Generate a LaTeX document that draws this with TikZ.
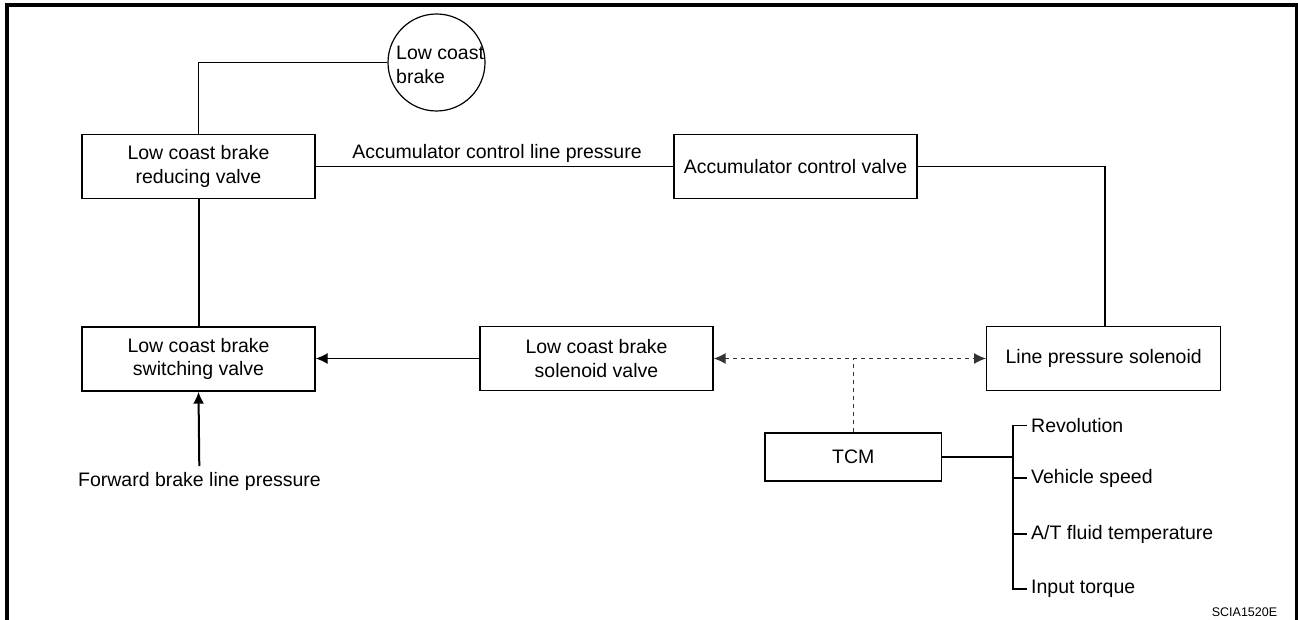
\documentclass[tikz,border=0pt]{standalone}
\usepackage{fontspec}
\setmainfont{Liberation Sans}
\usetikzlibrary{arrows.meta}
\begin{document}
\begin{tikzpicture}[x=1pt,y=-1pt,
  every node/.style={font=\fontsize{19.5}{23.5}\selectfont, inner sep=0pt},
  valvebox/.style={draw, line width=1.4pt, align=center, minimum height=64pt},
  thinline/.style={line width=1.2pt},
  thickline/.style={line width=2pt},
  sigline/.style={line width=1.1pt, black!80, dash pattern=on 4pt off 4pt},
  tip/.style={-{Latex[length=12pt,width=11pt]}},
  bothtip/.style={{Latex[length=12pt,width=11pt]}-{Latex[length=12pt,width=11pt]}},
  inlabel/.style={anchor=west, inner xsep=4pt},
  frame/.style={line width=4pt}
]
\useasboundingbox (0,0) rectangle (1298,620);
% frame (left, top, right)
\draw[frame] (7.3,620) -- (7.3,5.3) -- (1296.5,5.3) -- (1296.5,620);

% nodes
\node[draw, circle, line width=1.2pt, minimum size=97pt] (lcb) at (436.5,62.5) {};
\node[anchor=west, align=left] (lcbtext) at (396,65) {Low coast\\brake};
\node[valvebox, minimum width=233pt] (red) at (198.5,166.5) {Low coast brake\\reducing valve};
\node[valvebox, minimum width=233pt] (sw) at (198.5,359) {Low coast brake\\switching valve};
\node[valvebox, minimum width=233pt] (sol) at (596.5,358.5) {Low coast brake\\solenoid valve};
\node[valvebox, minimum width=243pt] (acv) at (795.5,166.5) {Accumulator control valve};
\node[valvebox, minimum width=234pt] (lps) at (1103.7,358.5) {Line pressure solenoid};
\node[valvebox, minimum width=176.5pt, minimum height=48pt] (tcm) at (853.3,457) {TCM};
\node (acl) at (497,153) {Accumulator control line pressure};
\node (fwd) at (199.5,481) {Forward brake line pressure};
\coordinate (fwdtop) at (199.3,466);
\coordinate (br) at (1013,457);
\node[inlabel] (rev) at (1027,425.7) {Revolution};
\node[inlabel] (vs) at (1027,478) {Vehicle speed};
\node[inlabel] (atf) at (1027,534) {A/T fluid temperature};
\node[inlabel] (inp) at (1027,589) {Input torque};
\node[font=\fontsize{12.5}{14}\selectfont] (code) at (1244.5,612) {SCIA1520E};

% connectors
\draw[thinline] (red.north) |- (lcb.west);
\draw[thickline] (red.south) -- (sw.north);
\draw[thickline, tip] (fwdtop) -- (sw.south);
\draw[thinline] (red.east) -- (acv.west);
\draw[thinline] (acv.east) -| ([xshift=1.3pt]lps.north);
\draw[thinline, tip] (sol.west) -- (sw.east |- sol.west);
\draw[sigline, bothtip] (sol.east) -- (lps.west);
\draw[sigline] (tcm.north) -- (tcm.north |- sol.east);
\draw[thinline] (tcm.east) -- (tcm.east -| br);
\draw[thinline] (rev.west) -- (rev.west -| br) -- (inp.west -| br) -- (inp.west);
\draw[thinline] (vs.west -| br) -- (vs.west);
\draw[thinline] (atf.west -| br) -- (atf.west);
\end{tikzpicture}
\end{document}
